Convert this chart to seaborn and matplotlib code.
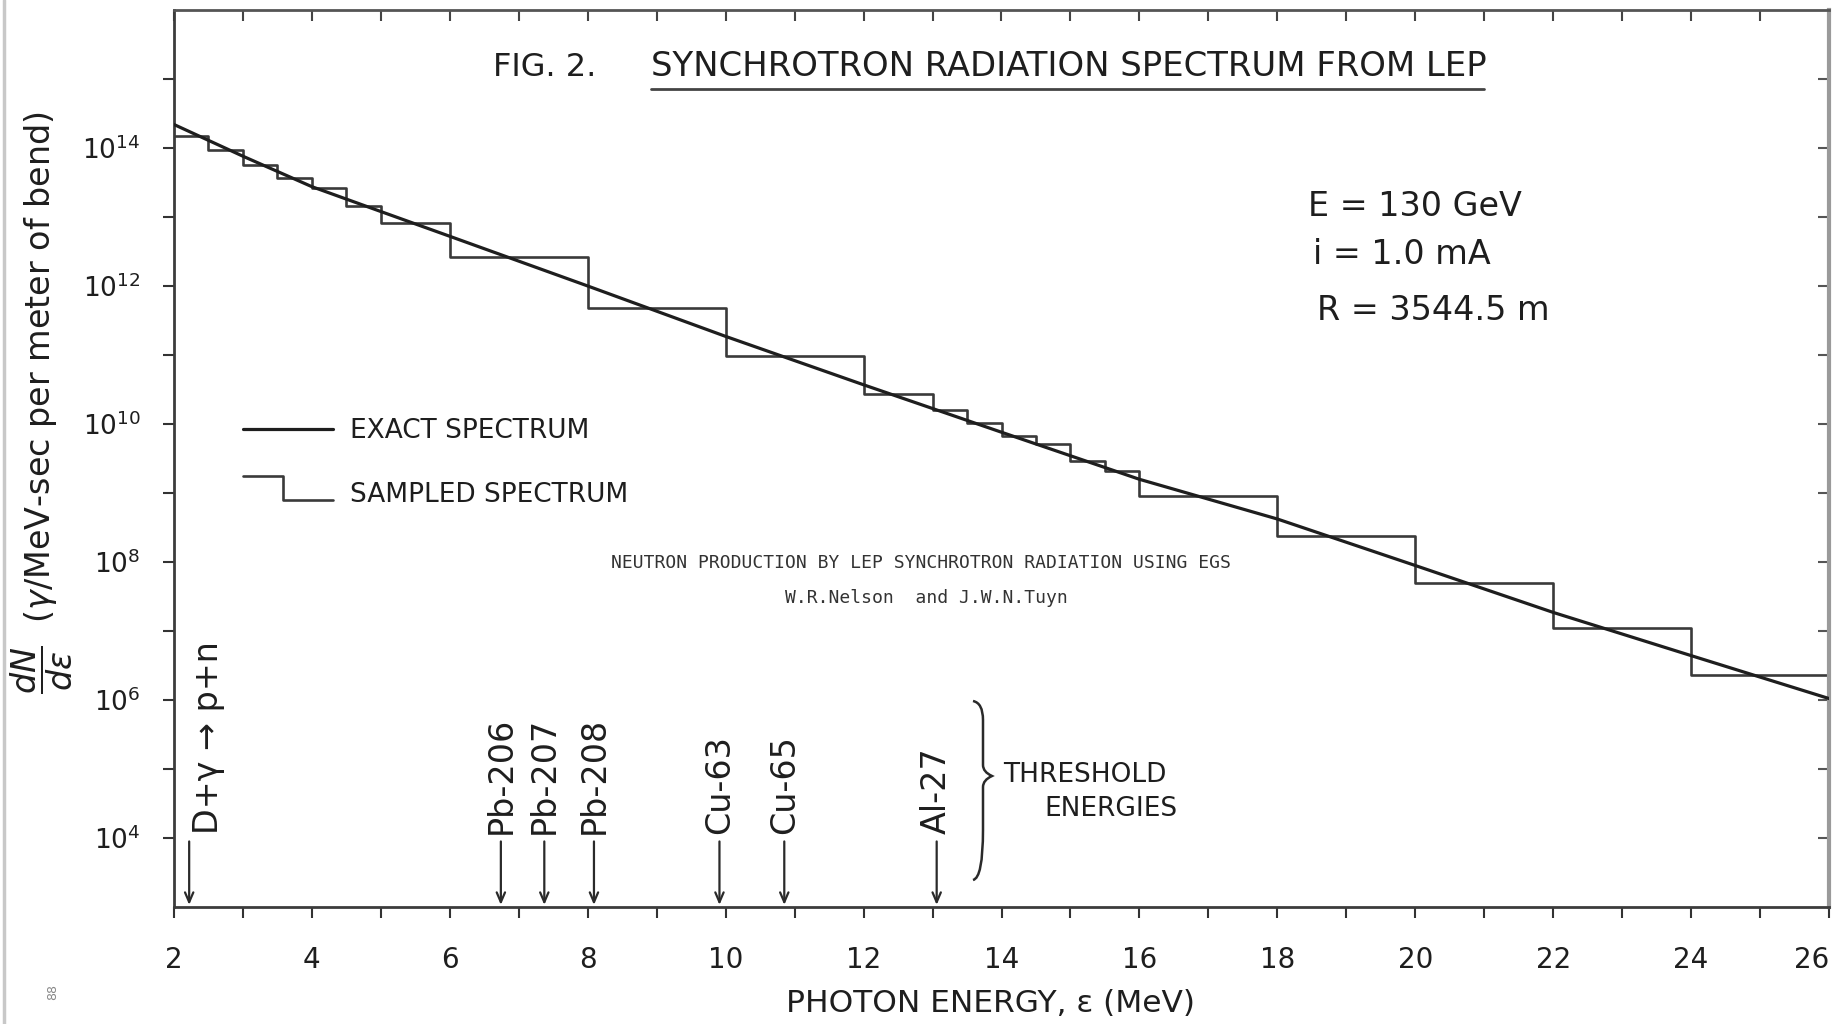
import numpy as np
import pandas as pd
import matplotlib
matplotlib.use("Agg")
import matplotlib.pyplot as plt
import seaborn as sns
from matplotlib.lines import Line2D
from matplotlib.legend_handler import HandlerBase
from matplotlib.path import Path
from matplotlib.patches import PathPatch
from matplotlib.ticker import FixedLocator, FuncFormatter, NullFormatter

# ---------------- data ----------------
exact_energy = [2, 3, 4, 5, 6, 8, 10, 12, 14, 16, 18, 20, 22, 24, 26]
exact_flux = [2.19e14, 7.6e13, 2.75e13, 1.2e13, 5.25e12, 1.0e12, 1.86e11, 3.7e10,
              7.6e9, 1.58e9, 4.2e8, 8.9e7, 1.86e7, 4.4e6, 1.05e6]

bin_edges = [2, 2.5, 3, 3.5, 4, 4.5, 5, 6, 8, 10, 12, 13, 13.5, 14, 14.5, 15, 15.5,
             16, 18, 20, 22, 24, 26]
sampled_flux = [1.51e14, 9.5e13, 5.75e13, 3.63e13, 2.63e13, 1.45e13, 8.3e12, 2.63e12,
                4.8e11, 9.8e10, 2.7e10, 1.62e10, 1.05e10, 6.8e9, 5.1e9, 2.95e9, 2.1e9,
                9.1e8, 2.35e8, 4.9e7, 1.12e7, 2.3e6]

threshold_labels = ["D+γ → p+n", "Pb-206", "Pb-207", "Pb-208", "Cu-63", "Cu-65", "Al-27"]
threshold_energy = [2.22, 6.74, 7.37, 8.09, 9.91, 10.85, 13.06]

x_major_ticks = [2, 4, 6, 8, 10, 12, 14, 16, 18, 20, 22, 24, 26]
x_minor_ticks = [3, 5, 7, 9, 11, 13, 15, 17, 19, 21, 23, 25]
y_major_exp = [4, 6, 8, 10, 12, 14]
y_minor_exp = [5, 7, 9, 11, 13, 15]

params_text = ["E = 130 GeV", "i = 1.0 mA", "R = 3544.5 m"]

# ---------------- styling ----------------
sns.set_style("ticks")
plt.rcParams["font.family"] = ["DejaVu Sans"]
plt.rcParams["mathtext.fontset"] = "dejavusans"
INK = "#1e1e1e"

W, H = 1839, 1024
def fx(px):
    return px / W
def fy(py):
    return 1 - py / H

fig = plt.figure(figsize=(18.39, 10.24), dpi=100)
fig.patch.set_facecolor("white")
ax = fig.add_axes([fx(174), fy(907), fx(1829) - fx(174), fy(10) - fy(907)])
ax.set_facecolor("white")
ax.set_yscale("log")

exact_df = pd.DataFrame({"energy": exact_energy, "flux": exact_flux})
step_df = pd.DataFrame({"energy": bin_edges, "flux": sampled_flux + [sampled_flux[-1]]})

sns.lineplot(data=exact_df, x="energy", y="flux", ax=ax, color=INK, lw=2.3,
             label="EXACT SPECTRUM", zorder=3)
sns.lineplot(data=step_df, x="energy", y="flux", ax=ax, color="#3a3a3a", lw=1.9,
             drawstyle="steps-post", label="SAMPLED SPECTRUM", zorder=2)

ax.set_xlim(2, 26)
ax.set_ylim(1e3, 1e16)
ax.set_xlabel("")
ax.set_ylabel("")

# ticks
ax.xaxis.set_major_locator(FixedLocator(x_major_ticks))
ax.xaxis.set_minor_locator(FixedLocator(x_minor_ticks))
ax.yaxis.set_major_locator(FixedLocator([10.0 ** e for e in y_major_exp]))
ax.yaxis.set_minor_locator(FixedLocator([10.0 ** e for e in y_minor_exp]))
ax.yaxis.set_major_formatter(FuncFormatter(lambda v, p: r"$10^{%d}$" % round(np.log10(v))))
ax.yaxis.set_minor_formatter(NullFormatter())
ax.tick_params(axis="both", which="both", direction="out", length=8, width=1.5,
               color="#333333", top=False, right=False)
ax.tick_params(axis="x", which="major", labelsize=20, pad=20, labelcolor=INK)
ax.tick_params(axis="y", which="major", labelsize=19, pad=16, labelcolor=INK)
# last x label sits at the right spine: keep it inside the canvas
fig.canvas.draw()
for lab in ax.get_xticklabels():
    if lab.get_text() == "26":
        lab.set_horizontalalignment("right")

for side, sp in ax.spines.items():
    sp.set_linewidth(2.0)
    sp.set_color("#3c3c3c")
ax.spines["right"].set_color("#9a9a9a")
ax.spines["right"].set_linewidth(3.0)
ax.spines["top"].set_color("#555555")

top = ax.secondary_xaxis("top")
top.set_xticks(x_major_ticks + x_minor_ticks)
top.tick_params(direction="in", length=8, width=1.5, color="#444444", labeltop=False)
top.spines["top"].set_visible(False)
right = ax.secondary_yaxis("right")
right.set_yticks([10.0 ** e for e in y_major_exp + y_minor_exp])
right.yaxis.set_minor_locator(FixedLocator([]))
right.tick_params(direction="in", length=8, width=1.5, color="#555555", labelright=False)
right.spines["right"].set_visible(False)

# ---------------- legend ----------------
class StepHandler(HandlerBase):
    def create_artists(self, legend, orig_handle, xdescent, ydescent, width, height,
                       fontsize, trans):
        x0 = -xdescent
        mid = x0 + 0.45 * width
        y_top = -ydescent + 1.4 * height
        y_bot = -ydescent + 0.1 * height
        ln = Line2D([x0, mid, mid, x0 + width], [y_top, y_top, y_bot, y_bot],
                    color=orig_handle.get_color(), lw=orig_handle.get_linewidth())
        ln.set_transform(trans)
        return [ln]

handles, labels = ax.get_legend_handles_labels()
leg = ax.legend(handles, labels, loc="upper left",
                bbox_to_anchor=(fx(243), fy(418)), bbox_transform=fig.transFigure,
                frameon=False, fontsize=19, handlelength=3.4, handletextpad=0.65,
                labelspacing=1.45, borderpad=0, borderaxespad=0,
                handler_map={handles[1]: StepHandler()})
for t in leg.get_texts():
    t.set_color(INK)

# ---------------- title ----------------
fig.text(fx(493), fy(67), "FIG. 2.", fontsize=23, color=INK, ha="left", va="center")
fig.text(fx(651), fy(67), "SYNCHROTRON RADIATION SPECTRUM FROM LEP", fontsize=24.4,
         color=INK, ha="left", va="center")
fig.add_artist(Line2D([fx(651), fx(1484)], [fy(89), fy(89)], transform=fig.transFigure,
                      color="#444444", lw=2.0))

# parameters
for txt, py, px in zip(params_text, [207, 255, 310], [1308, 1313, 1317]):
    fig.text(fx(px), fy(py), txt, fontsize=24, color=INK, ha="left", va="center")

# typed caption
fig.text(fx(921), fy(563), "NEUTRON PRODUCTION BY LEP SYNCHROTRON RADIATION USING EGS",
         family="DejaVu Sans Mono", fontsize=13, color="#333333", ha="center", va="center")
fig.text(fx(926), fy(598), "W.R.Nelson  and J.W.N.Tuyn", family="DejaVu Sans Mono",
         fontsize=13, color="#333333", ha="center", va="center")

# axis labels
fig.text(fx(991), fy(1003), "PHOTON ENERGY, ε (MeV)", fontsize=22.5, color=INK,
         ha="center", va="center")
fig.text(fx(42), fy(403), r"$\dfrac{dN}{d\varepsilon}$  ($\gamma$/MeV-sec per meter of bend)",
         fontsize=24, color=INK, rotation=90, ha="center", va="center")
fig.text(fx(53), fy(992), "88", fontsize=9, color="#888888", rotation=90,
         ha="center", va="center")

# scan border
fig.add_artist(Line2D([fx(4), fx(4)], [0, 1], transform=fig.transFigure,
                      color="#c8c8c8", lw=2.5))

# ---------------- threshold arrows ----------------
for i, (lab, e) in enumerate(zip(threshold_labels, threshold_energy)):
    ax.annotate("", xy=(e, 10 ** 3.03), xytext=(e, 10 ** 3.95),
                arrowprops=dict(arrowstyle="->,head_length=0.7,head_width=0.3",
                                color="#2a2a2a", lw=1.6, shrinkA=0, shrinkB=0))
    dx = 14 if i == 0 else 0
    ax.annotate(lab, xy=(e, 10 ** 4.06), xytext=(dx, 0), textcoords="offset points",
                rotation=90, ha="center", va="bottom", fontsize=24, color=INK)

# brace
def P(px, py):
    return (fx(px), fy(py))
verts = [P(973, 701), P(983, 703), P(983, 720),
         P(983, 765), P(983, 772), P(992, 776),
         P(983, 780), P(983, 787), P(983, 830),
         P(983, 878), P(973, 880)]
codes = [Path.MOVETO, Path.CURVE3, Path.CURVE3,
         Path.LINETO, Path.CURVE3, Path.CURVE3,
         Path.CURVE3, Path.CURVE3, Path.LINETO,
         Path.CURVE3, Path.CURVE3]
fig.add_artist(PathPatch(Path(verts, codes), transform=fig.transFigure, fill=False,
                         edgecolor="#2a2a2a", lw=1.8))
fig.text(fx(1003), fy(775), "THRESHOLD", fontsize=19, color=INK, ha="left", va="center")
fig.text(fx(1044), fy(809), "ENERGIES", fontsize=19, color=INK, ha="left", va="center")

fig.savefig("out.png", dpi=100, facecolor="white")
